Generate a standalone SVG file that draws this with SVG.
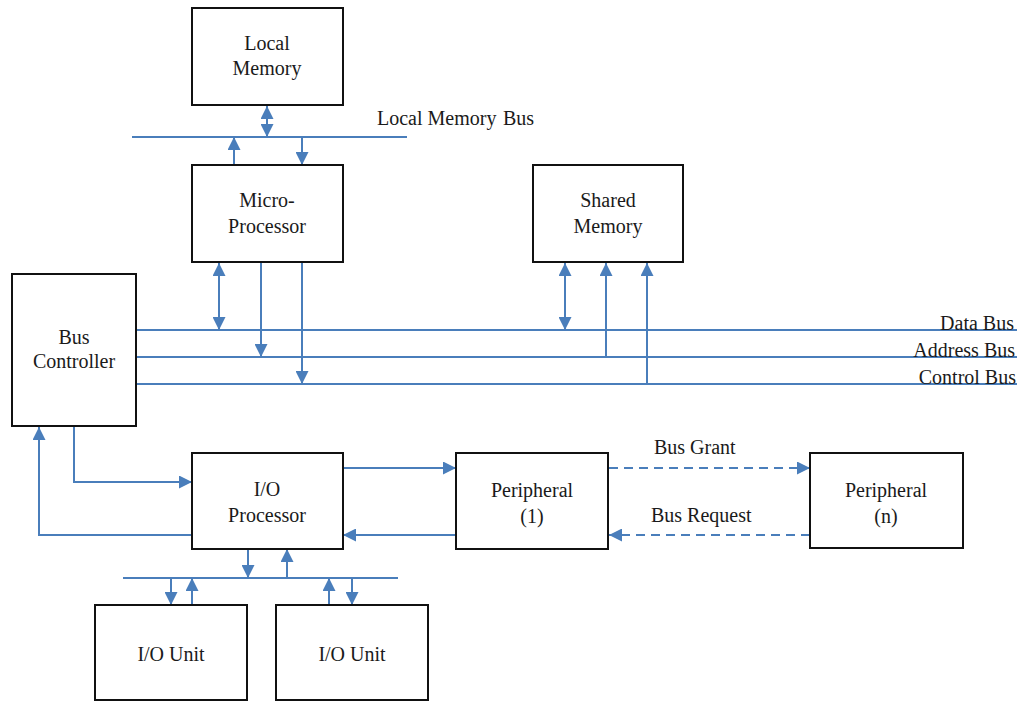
<svg xmlns="http://www.w3.org/2000/svg" width="1023" height="703" viewBox="0 0 1023 703">
  <style>
    .box { fill: #ffffff; stroke: #111111; stroke-width: 2; }
    .lbl { font-family: "Liberation Serif", "Times New Roman", serif; font-size: 20px; fill: #1a1a1a; }
    .mid { text-anchor: middle; }
    .end { text-anchor: end; }
    .wire { fill: none; stroke: #4a7ebb; stroke-width: 2; }
    .arrow { marker-end: url(#head); }
    .both { marker-start: url(#head); marker-end: url(#head); }
    .dash { stroke-dasharray: 9 6; }
  </style>
  <defs>
    <marker id="head" viewBox="0 0 13 13" refX="13" refY="6.5" markerWidth="13" markerHeight="13" markerUnits="userSpaceOnUse" orient="auto-start-reverse">
      <path d="M0,0 L13,6.5 L0,13 z" fill="#4a7ebb"/>
    </marker>
  </defs>

  <rect width="1023" height="703" fill="#ffffff"/>

  <!-- connectors: buses and signal lines -->
  <g id="connectors">
    <!-- local memory bus -->
    <line class="wire" x1="132" y1="137" x2="407" y2="137"/>
    <line class="wire both" x1="267" y1="106" x2="267" y2="137"/>
    <line class="wire arrow" x1="234" y1="165" x2="234" y2="137"/>
    <line class="wire arrow" x1="302" y1="137" x2="302" y2="165"/>

    <!-- system buses -->
    <line class="wire" x1="136" y1="330" x2="1017" y2="330"/>
    <line class="wire" x1="136" y1="357" x2="1017" y2="357"/>
    <line class="wire" x1="136" y1="384" x2="1017" y2="384"/>

    <!-- microprocessor taps -->
    <line class="wire both" x1="219" y1="263" x2="219" y2="330"/>
    <line class="wire arrow" x1="261" y1="263" x2="261" y2="357"/>
    <line class="wire arrow" x1="302" y1="263" x2="302" y2="384"/>

    <!-- shared memory taps -->
    <line class="wire both" x1="565" y1="263" x2="565" y2="330"/>
    <line class="wire arrow" x1="606" y1="357" x2="606" y2="263"/>
    <line class="wire arrow" x1="647" y1="384" x2="647" y2="263"/>

    <!-- bus controller to / from I/O processor -->
    <path class="wire arrow" d="M74,427 V482 H192"/>
    <path class="wire arrow" d="M192,535 H39 V427"/>

    <!-- I/O processor to / from peripheral (1) -->
    <line class="wire arrow" x1="343" y1="468" x2="456" y2="468"/>
    <line class="wire arrow" x1="456" y1="535" x2="343" y2="535"/>

    <!-- bus grant / bus request -->
    <line class="wire dash arrow" x1="609" y1="468" x2="810" y2="468"/>
    <line class="wire dash arrow" x1="810" y1="535" x2="609" y2="535"/>

    <!-- I/O bus -->
    <line class="wire" x1="123" y1="578" x2="398" y2="578"/>
    <line class="wire arrow" x1="248" y1="549" x2="248" y2="578"/>
    <line class="wire arrow" x1="287" y1="578" x2="287" y2="549"/>
    <line class="wire arrow" x1="171" y1="578" x2="171" y2="605"/>
    <line class="wire arrow" x1="192" y1="605" x2="192" y2="578"/>
    <line class="wire arrow" x1="329" y1="605" x2="329" y2="578"/>
    <line class="wire arrow" x1="352" y1="578" x2="352" y2="605"/>
  </g>

  <!-- bus labels -->
  <g id="bus-labels">
    <text class="lbl" x="377" y="125">Local Memory<tspan x="503">Bus</tspan></text>
    <text class="lbl end" x="1014" y="330">Data Bus</text>
    <text class="lbl end" x="1015" y="357">Address Bus</text>
    <text class="lbl end" x="1016" y="384">Control Bus</text>
    <text class="lbl" x="654" y="454">Bus Grant</text>
    <text class="lbl" x="651" y="522">Bus Request</text>
  </g>

  <g id="local-memory">
    <rect class="box" x="192" y="8" width="151" height="97"/>
    <text class="lbl mid" x="267" y="50">Local</text>
    <text class="lbl mid" x="267" y="75">Memory</text>
  </g>

  <g id="micro-processor">
    <rect class="box" x="192" y="165" width="151" height="97"/>
    <text class="lbl mid" x="267" y="207">Micro-</text>
    <text class="lbl mid" x="267" y="233">Processor</text>
  </g>

  <g id="shared-memory">
    <rect class="box" x="533" y="165" width="150" height="97"/>
    <text class="lbl mid" x="608" y="207">Shared</text>
    <text class="lbl mid" x="608" y="233">Memory</text>
  </g>

  <g id="bus-controller">
    <rect class="box" x="12" y="274" width="124" height="152"/>
    <text class="lbl mid" x="74" y="344">Bus</text>
    <text class="lbl mid" x="74" y="368">Controller</text>
  </g>

  <g id="io-processor">
    <rect class="box" x="192" y="453" width="151" height="96"/>
    <text class="lbl mid" x="267" y="496">I/O</text>
    <text class="lbl mid" x="267" y="522">Processor</text>
  </g>

  <g id="peripheral-1">
    <rect class="box" x="456" y="453" width="152" height="96"/>
    <text class="lbl mid" x="532" y="497">Peripheral</text>
    <text class="lbl mid" x="532" y="523">(1)</text>
  </g>

  <g id="peripheral-n">
    <rect class="box" x="810" y="453" width="153" height="95"/>
    <text class="lbl mid" x="886" y="497">Peripheral</text>
    <text class="lbl mid" x="886" y="523">(n)</text>
  </g>

  <g id="io-unit-1">
    <rect class="box" x="95" y="605" width="152" height="95"/>
    <text class="lbl mid" x="171" y="661">I/O Unit</text>
  </g>

  <g id="io-unit-2">
    <rect class="box" x="276" y="605" width="152" height="95"/>
    <text class="lbl mid" x="352" y="661">I/O Unit</text>
  </g>
</svg>
